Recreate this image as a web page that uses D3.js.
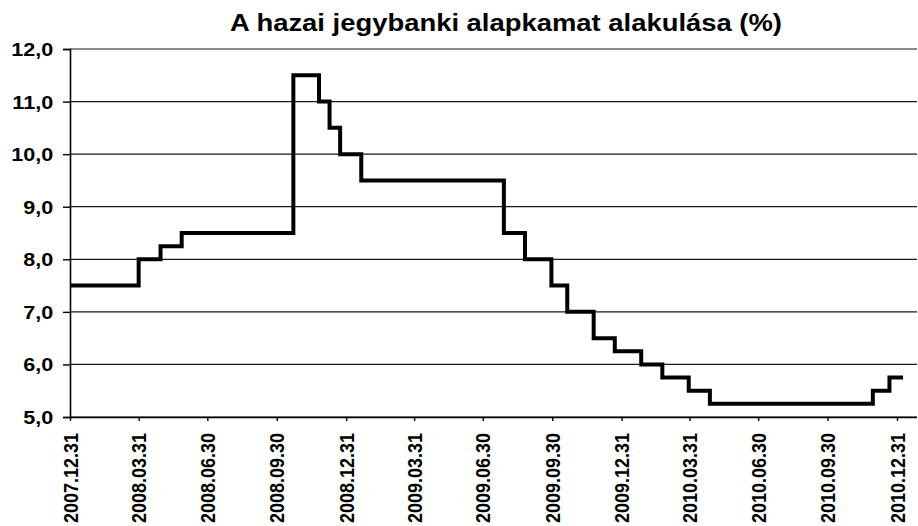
<!DOCTYPE html>
<html>
<head>
<meta charset="utf-8">
<script src="https://cdn.jsdelivr.net/npm/d3@7"></script>
<style>
  body { margin: 0; background: #fff; }
  text { font-family: "Liberation Sans", Arial, sans-serif; font-weight: bold; fill: #000; }
</style>
</head>
<body>
<div id="chart"></div>
<script>
// Base rate change dates and values (step after)
var rateDates = ["2007.12.31", "2008.03.31", "2008.04.29", "2008.05.27", "2008.10.22",
                 "2008.11.25", "2008.12.09", "2008.12.23", "2009.01.20", "2009.07.28",
                 "2009.08.25", "2009.09.29", "2009.10.20", "2009.11.24", "2009.12.22",
                 "2010.01.26", "2010.02.23", "2010.03.30", "2010.04.27", "2010.11.29",
                 "2010.12.21", "2011.01.08"];
var rateValues = [7.5, 8.0, 8.25, 8.5, 11.5,
                  11.0, 10.5, 10.0, 9.5, 8.5,
                  8.0, 7.5, 7.0, 6.5, 6.25,
                  6.0, 5.75, 5.5, 5.25, 5.5,
                  5.75, 5.75];

// Axis tick labels
var xTickLabels = ["2007.12.31", "2008.03.31", "2008.06.30", "2008.09.30", "2008.12.31",
                   "2009.03.31", "2009.06.30", "2009.09.30", "2009.12.31", "2010.03.31",
                   "2010.06.30", "2010.09.30", "2010.12.31"];
var yTicks = [5, 6, 7, 8, 9, 10, 11, 12];

var title = "A hazai jegybanki alapkamat alakulása (%)";

drawChart();

function drawChart() {
    var width = 918, height = 526;
    var plotLeft = 70, plotTop = 49, plotBottom = 417, gridRight = 917;

    var parseDate = d3.timeParse("%Y.%m.%d");

    var data = rateDates.map(function(d, i) {
        return { date: parseDate(d), value: rateValues[i] };
    });

    var svg = d3.select("#chart")
        .append("svg")
        .attr("width", width)
        .attr("height", height);

    // x: first and last quarter-end tick positions
    var x = d3.scaleTime()
        .domain([parseDate(xTickLabels[0]), parseDate(xTickLabels[xTickLabels.length - 1])])
        .range([plotLeft, 897]);

    var y = d3.scaleLinear()
        .domain([5, 12])
        .range([plotBottom, plotTop]);

    // Horizontal gridlines
    svg.selectAll(".grid")
        .data(yTicks)
        .enter()
        .append("line")
        .attr("class", "grid")
        .attr("x1", plotLeft)
        .attr("x2", gridRight)
        .attr("y1", function(d) { return y(d); })
        .attr("y2", function(d) { return y(d); })
        .style("stroke", "#1a1a1a")
        .style("stroke-width", 1.2);

    // Y axis
    var yAxis = svg.append("g")
        .attr("transform", "translate(" + plotLeft + ",0)")
        .call(d3.axisLeft(y)
            .tickValues(yTicks)
            .tickSize(7)
            .tickPadding(0)
            .tickFormat(function(d) { return d3.format(".1f")(d).replace(".", ","); }));

    yAxis.select(".domain").style("stroke", "#000").style("stroke-width", 1.6);
    yAxis.selectAll(".tick line").style("stroke", "#000").style("stroke-width", 1.4);
    yAxis.selectAll("text")
        .attr("x", -14)
        .attr("dy", "0.36em")
        .attr("transform", "scale(1.2,1)")
        .style("font-size", "18px")
        .style("font-family", "'Liberation Sans', Arial, sans-serif");

    // X axis
    var xAxis = svg.append("g")
        .attr("transform", "translate(0," + plotBottom + ")")
        .call(d3.axisBottom(x)
            .tickValues(xTickLabels.map(parseDate))
            .tickSize(4)
            .tickSizeOuter(0)
            .tickFormat(d3.timeFormat("%Y.%m.%d")));

    xAxis.select(".domain")
        .attr("d", "M" + plotLeft + ",0.5H" + gridRight)
        .style("stroke", "#000")
        .style("stroke-width", 1.6);
    xAxis.selectAll(".tick line").style("stroke", "#000").style("stroke-width", 1.4);
    xAxis.selectAll("text")
        .attr("transform", "rotate(-90) scale(1,1.12)")
        .attr("x", -16)
        .attr("y", 0)
        .attr("dy", "0.35em")
        .style("text-anchor", "end")
        .style("font-size", "18px")
        .style("font-family", "'Liberation Sans', Arial, sans-serif");

    // Step line
    var line = d3.line()
        .curve(d3.curveStepAfter)
        .x(function(d) { return x(d.date); })
        .y(function(d) { return y(d.value); });

    svg.append("path")
        .datum(data)
        .attr("d", line)
        .style("fill", "none")
        .style("stroke", "#000")
        .style("stroke-width", 4)
        .style("stroke-linejoin", "miter");

    // Title
    svg.append("text")
        .attr("x", 230)
        .attr("y", 31)
        .attr("textLength", 552)
        .attr("lengthAdjust", "spacingAndGlyphs")
        .style("font-size", "23px")
        .text(title);
}
</script>
</body>
</html>
